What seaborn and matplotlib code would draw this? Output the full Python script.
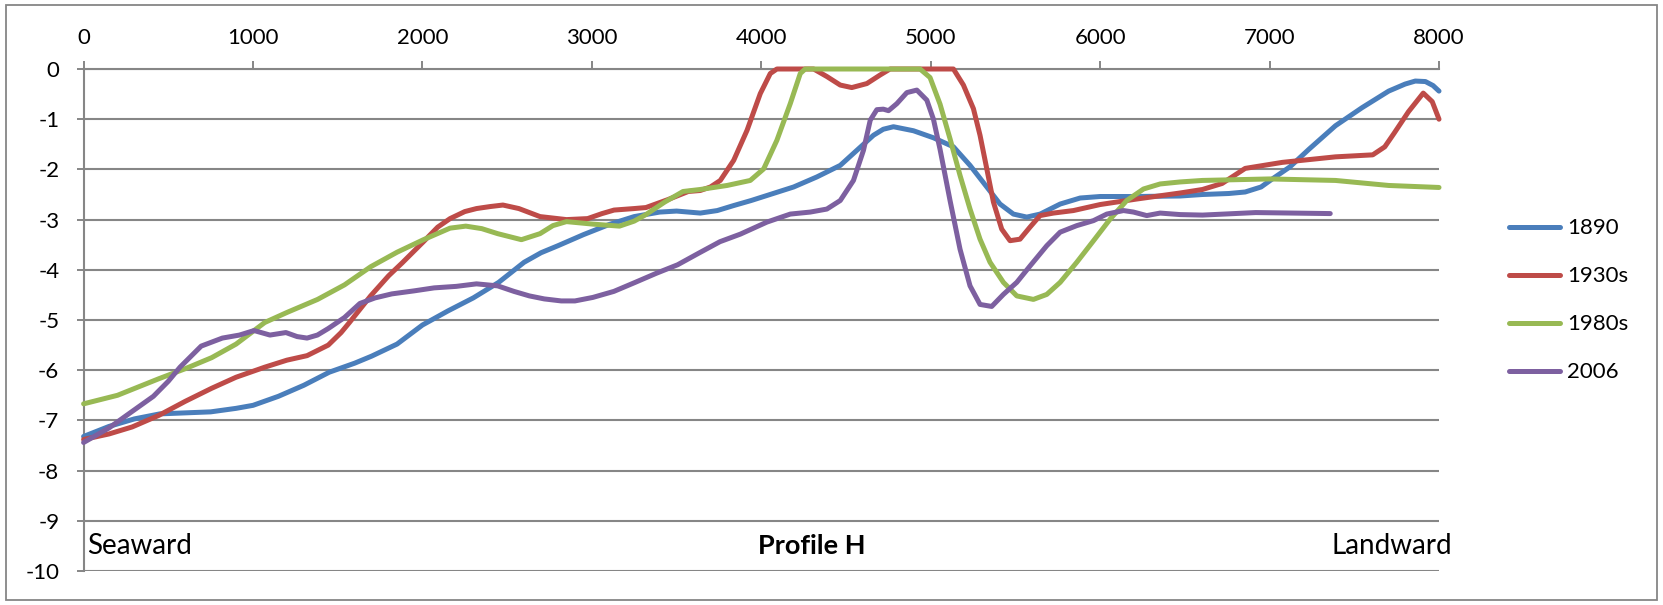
import matplotlib
matplotlib.use("Agg")
import matplotlib.pyplot as plt
from matplotlib.patches import Rectangle
import seaborn as sns
import pandas as pd

# ---------------- data ----------------
series_names = ["1890", "1930s", "1980s", "2006"]

x_1890 = [0, 150, 300, 450, 600, 750, 900, 1000, 1150, 1300, 1450, 1600, 1700, 1850,
          2000, 2150, 2300, 2450, 2600, 2700, 2800, 2950, 3100, 3250, 3400, 3500, 3640,
          3740, 3837, 3940, 4033, 4191, 4328, 4466, 4564, 4662, 4720, 4780, 4898, 5016,
          5134, 5232, 5331, 5409, 5488, 5567, 5646, 5764, 5882, 6000, 6197, 6472, 6604,
          6760, 6856, 6950, 7012, 7120, 7232, 7389, 7546, 7703, 7800, 7860, 7920, 7965,
          8000]
y_1890 = [-7.32, -7.12, -6.97, -6.87, -6.85, -6.83, -6.76, -6.70, -6.52, -6.30, -6.04,
          -5.86, -5.72, -5.48, -5.10, -4.82, -4.56, -4.25, -3.85, -3.66, -3.52, -3.30,
          -3.10, -2.94, -2.85, -2.83, -2.87, -2.82, -2.72, -2.62, -2.52, -2.35, -2.15,
          -1.92, -1.62, -1.32, -1.20, -1.15, -1.23, -1.37, -1.55, -1.92, -2.35, -2.69,
          -2.89, -2.95, -2.89, -2.69, -2.57, -2.54, -2.54, -2.53, -2.50, -2.48, -2.45,
          -2.35, -2.20, -1.95, -1.60, -1.13, -0.77, -0.44, -0.30, -0.24, -0.25, -0.33,
          -0.44]

x_1930s = [0, 150, 287, 444, 600, 756, 900, 1069, 1200, 1319, 1444, 1520, 1569, 1694,
           1800, 1881, 2006, 2090, 2163, 2250, 2319, 2400, 2475, 2569, 2694, 2850, 2975,
           3060, 3131, 3250, 3319, 3450, 3569, 3640, 3700, 3758, 3837, 3916, 3994, 4053,
           4092, 4309, 4387, 4466, 4534, 4623, 4701, 4760, 5134, 5193, 5252, 5291, 5331,
           5370, 5419, 5468, 5527, 5586, 5645, 5724, 5842, 6000, 6216, 6472, 6604, 6720,
           6856, 7075, 7389, 7609, 7680, 7735, 7820, 7907, 7960, 8000]
y_1930s = [-7.38, -7.27, -7.13, -6.90, -6.62, -6.36, -6.14, -5.94, -5.80, -5.71, -5.50,
           -5.25, -5.05, -4.52, -4.12, -3.86, -3.44, -3.15, -2.98, -2.84, -2.78, -2.74,
           -2.71, -2.78, -2.94, -3.00, -2.98, -2.88, -2.81, -2.78, -2.76, -2.60, -2.44,
           -2.42, -2.35, -2.22, -1.82, -1.22, -0.49, -0.09, 0.0, 0.0, -0.15, -0.32, -0.37,
           -0.29, -0.12, 0.0, 0.0, -0.32, -0.79, -1.32, -1.99, -2.65, -3.19, -3.42, -3.39,
           -3.15, -2.92, -2.87, -2.82, -2.70, -2.59, -2.47, -2.40, -2.28, -1.98, -1.86,
           -1.75, -1.71, -1.55, -1.28, -0.85, -0.48, -0.65, -1.00]

x_1980s = [0, 200, 444, 600, 756, 900, 1069, 1200, 1381, 1540, 1694, 1850, 2006, 2163,
           2256, 2350, 2444, 2584, 2694, 2770, 2850, 3006, 3163, 3250, 3319, 3430, 3538,
           3640, 3798, 3935, 4014, 4092, 4171, 4230, 4259, 4937, 4996, 5055, 5114, 5173,
           5232, 5291, 5350, 5429, 5508, 5606, 5685, 5764, 5862, 5961, 6059, 6157, 6256,
           6354, 6472, 6604, 7000, 7389, 7703, 8000]
y_1980s = [-6.67, -6.50, -6.17, -5.97, -5.75, -5.48, -5.05, -4.85, -4.59, -4.30, -3.94,
           -3.65, -3.40, -3.17, -3.13, -3.18, -3.28, -3.40, -3.28, -3.12, -3.04, -3.09,
           -3.13, -3.03, -2.90, -2.65, -2.44, -2.40, -2.32, -2.22, -1.99, -1.42, -0.69,
           -0.09, 0.0, 0.0, -0.17, -0.70, -1.39, -2.12, -2.79, -3.39, -3.85, -4.25, -4.52,
           -4.59, -4.49, -4.25, -3.85, -3.42, -2.99, -2.62, -2.39, -2.29, -2.25, -2.22,
           -2.19, -2.22, -2.32, -2.36]

x_2006 = [0, 150, 287, 412, 500, 569, 694, 819, 920, 1006, 1100, 1194, 1260, 1319, 1380,
          1444, 1540, 1631, 1720, 1819, 1950, 2069, 2200, 2319, 2444, 2540, 2631, 2719,
          2819, 2900, 3006, 3130, 3256, 3380, 3506, 3630, 3756, 3876, 4033, 4171, 4289,
          4387, 4466, 4544, 4603, 4643, 4682, 4720, 4751, 4800, 4859, 4918, 4977, 5016,
          5055, 5114, 5173, 5232, 5291, 5360, 5429, 5508, 5587, 5685, 5764, 5862, 5961,
          6039, 6138, 6197, 6275, 6354, 6472, 6604, 6918, 7358]
y_2006 = [-7.44, -7.15, -6.82, -6.52, -6.22, -5.94, -5.52, -5.36, -5.30, -5.21, -5.30,
          -5.25, -5.33, -5.36, -5.30, -5.17, -4.95, -4.67, -4.56, -4.48, -4.42, -4.36,
          -4.33, -4.28, -4.32, -4.43, -4.52, -4.58, -4.62, -4.62, -4.55, -4.43, -4.25,
          -4.07, -3.90, -3.67, -3.44, -3.29, -3.05, -2.89, -2.85, -2.79, -2.62, -2.22,
          -1.62, -1.02, -0.81, -0.80, -0.83, -0.69, -0.47, -0.42, -0.62, -1.00, -1.60,
          -2.62, -3.59, -4.32, -4.69, -4.73, -4.49, -4.25, -3.92, -3.52, -3.25, -3.12,
          -3.02, -2.89, -2.82, -2.85, -2.92, -2.87, -2.90, -2.91, -2.86, -2.88]

x_ticks = [0, 1000, 2000, 3000, 4000, 5000, 6000, 7000, 8000]
x_tick_labels = ["0", "1000", "2000", "3000", "4000", "5000", "6000", "7000", "8000"]
y_ticks = [0, -1, -2, -3, -4, -5, -6, -7, -8, -9, -10]
y_tick_labels = ["0", "-1", "-2", "-3", "-4", "-5", "-6", "-7", "-8", "-9", "-10"]

# ---------------- style ----------------
plt.rcParams["font.family"] = ["Lato", "DejaVu Sans"]
plt.rcParams["axes.unicode_minus"] = False

GRID = "#868686"
LW = 3.6
palette = {"1890": "#4A7EBB", "1930s": "#BE4B48", "1980s": "#98B954", "2006": "#7D60A0"}

frames = []
for name, xs, ys in [("1890", x_1890, y_1890), ("1930s", x_1930s, y_1930s),
                     ("1980s", x_1980s, y_1980s), ("2006", x_2006, y_2006)]:
    frames.append(pd.DataFrame({"distance": xs, "elevation": ys, "series": name}))
df = pd.concat(frames, ignore_index=True)

W, H = 1663, 605
fig = plt.figure(figsize=(W / 100, H / 100), dpi=100)
ax = fig.add_axes([83.6 / W, 1 - 571 / H, (1439 - 83.6) / W, (571 - 69) / H])

sns.lineplot(data=df, x="distance", y="elevation", hue="series", hue_order=series_names,
             palette=palette, sort=False, estimator=None, linewidth=LW, ax=ax,
             legend=True)
for ln in ax.get_lines():
    ln.set_solid_joinstyle("round")
    ln.set_solid_capstyle("round")
    ln.set_clip_on(False)
    ln.set_zorder(4)

ax.set_xlim(0, 8000)
ax.set_ylim(-10, 0)
ax.set_xlabel("")
ax.set_ylabel("")
ax.xaxis.tick_top()
ax.set_xticks(x_ticks)
ax.set_xticklabels(x_tick_labels)
ax.set_yticks(y_ticks)
ax.set_yticklabels(y_tick_labels)
ax.tick_params(axis="x", which="both", top=True, bottom=False, length=5.8, width=1.4,
               color=GRID, pad=9, labelsize=16, labelcolor="black")
ax.tick_params(axis="y", length=5, width=1.4, color=GRID, pad=12.5, labelsize=16,
               labelcolor="black")
ax.grid(axis="y", color=GRID, linewidth=1.5)
ax.grid(axis="x", visible=False)
ax.set_axisbelow(True)
for s in ["bottom", "right"]:
    ax.spines[s].set_visible(False)
for s in ["top", "left"]:
    ax.spines[s].set_color(GRID)
    ax.spines[s].set_linewidth(1.5)

# legend on the right
handles, labels = ax.get_legend_handles_labels()
ax.get_legend().remove()
leg = fig.legend(handles, labels, loc="center left",
                 bbox_to_anchor=(1509 / W, 1 - 300.5 / H), frameon=False,
                 borderpad=0, borderaxespad=0, handlelength=2.3, handletextpad=0.3,
                 labelspacing=1.26, fontsize=16)
for lh in leg.get_lines():
    lh.set_linewidth(LW)
    lh.set_solid_capstyle("round")

# annotations
ax.text(20, -9.5, "Seaward", ha="left", va="center", fontsize=20, clip_on=False)
ax.text(4297, -9.5, "Profile H", ha="center", va="center", fontsize=19.5,
        fontweight="bold", clip_on=False)
ax.text(8077, -9.5, "Landward", ha="right", va="center", fontsize=20, clip_on=False)

# chart border
fig.add_artist(Rectangle((6 / W, 5 / H), (1657 - 6) / W, (600 - 5) / H,
                         transform=fig.transFigure, fill=False, edgecolor=GRID,
                         linewidth=1.3))

fig.savefig("out.png", dpi=100, facecolor="white")
